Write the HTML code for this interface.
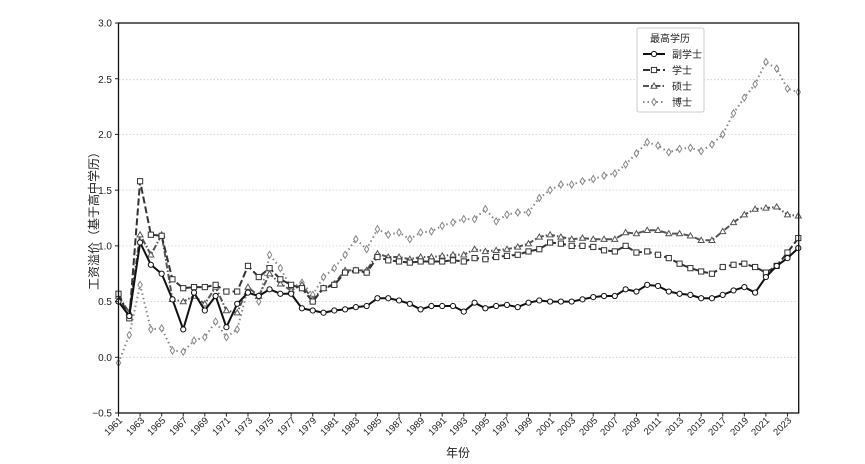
<!DOCTYPE html>
<html><head><meta charset="utf-8"><style>
html,body{margin:0;padding:0;background:#fff;}
svg{display:block;font-family:"Liberation Sans","Noto Sans CJK SC",sans-serif;}
</style></head><body>
<svg id="s" width="865" height="464" viewBox="0 0 865 464" xmlns="http://www.w3.org/2000/svg">
<rect width="865" height="464" fill="#fff"/>
<g id="grid" stroke="#ccc" stroke-width="0.8" stroke-dasharray="1.5,2">
<line x1="119" x2="798" y1="79.7" y2="79.7"/>
<line x1="119" x2="798" y1="134.4" y2="134.4"/>
<line x1="119" x2="798" y1="190.1" y2="190.1"/>
<line x1="119" x2="798" y1="245.9" y2="245.9"/>
<line x1="119" x2="798" y1="301.6" y2="301.6"/>
<line x1="119" x2="798" y1="357.3" y2="357.3"/>
</g>
<g id="series"></g>
<rect x="118.5" y="23" width="680.2" height="390" fill="none" stroke="#111" stroke-width="1.3"/>
<g font-size="10" fill="#222" text-anchor="end">
<text x="112" y="26.5">3.0</text>
<text x="112" y="83">2.5</text>
<text x="112" y="138">2.0</text>
<text x="112" y="194">1.5</text>
<text x="112" y="249.5">1.0</text>
<text x="112" y="305">0.5</text>
<text x="112" y="361">0.0</text>
<text x="112" y="416.5">−0.5</text>
</g>
<g id="yt" stroke="#222" stroke-width="1"></g>
<g id="xl" font-size="9.5" fill="#222" text-anchor="end">
<text transform="translate(123,421) rotate(-45)">1961</text>
<text transform="translate(145,421) rotate(-45)">1963</text>
<text transform="translate(166,421) rotate(-45)">1965</text>
<text transform="translate(188,421) rotate(-45)">1967</text>
<text transform="translate(209,421) rotate(-45)">1969</text>
<text transform="translate(231,421) rotate(-45)">1971</text>
<text transform="translate(253,421) rotate(-45)">1973</text>
<text transform="translate(274,421) rotate(-45)">1975</text>
<text transform="translate(296,421) rotate(-45)">1977</text>
<text transform="translate(317,421) rotate(-45)">1979</text>
<text transform="translate(339,421) rotate(-45)">1981</text>
<text transform="translate(360,421) rotate(-45)">1983</text>
<text transform="translate(382,421) rotate(-45)">1985</text>
<text transform="translate(404,421) rotate(-45)">1987</text>
<text transform="translate(425,421) rotate(-45)">1989</text>
<text transform="translate(447,421) rotate(-45)">1991</text>
<text transform="translate(468,421) rotate(-45)">1993</text>
<text transform="translate(490,421) rotate(-45)">1995</text>
<text transform="translate(511,421) rotate(-45)">1997</text>
<text transform="translate(533,421) rotate(-45)">1999</text>
<text transform="translate(555,421) rotate(-45)">2001</text>
<text transform="translate(576,421) rotate(-45)">2003</text>
<text transform="translate(598,421) rotate(-45)">2005</text>
<text transform="translate(619,421) rotate(-45)">2007</text>
<text transform="translate(641,421) rotate(-45)">2009</text>
<text transform="translate(662,421) rotate(-45)">2011</text>
<text transform="translate(684,421) rotate(-45)">2013</text>
<text transform="translate(706,421) rotate(-45)">2015</text>
<text transform="translate(727,421) rotate(-45)">2017</text>
<text transform="translate(749,421) rotate(-45)">2019</text>
<text transform="translate(770,421) rotate(-45)">2021</text>
<text transform="translate(792,421) rotate(-45)">2023</text>
</g>
<text x="458" y="457" font-size="12" text-anchor="middle" fill="#222">年份</text>
<text transform="translate(98,218) rotate(-90)" font-size="12" text-anchor="middle" fill="#222">工资溢价（基于高中学历）</text>
<g>
<rect x="637" y="28" width="67" height="84" fill="#fff" stroke="#ccc" stroke-width="1" rx="2"/>
<text x="670" y="42" font-size="10" text-anchor="middle" fill="#222">最高学历</text>
<text x="672" y="58" font-size="10" fill="#222">副学士</text>
<text x="672" y="74" font-size="10" fill="#222">学士</text>
<text x="672" y="90" font-size="10" fill="#222">硕士</text>
<text x="672" y="106" font-size="10" fill="#222">博士</text>
<g id="leg"></g>
</g>
</svg>
<script>
var NS="http://www.w3.org/2000/svg";
function X(yr){return 118.5+(yr-1961)*10.79;}
function Y(v){return 23+(3-v)*111.43;}
var A=[0.50,0.37,1.03,0.83,0.75,0.52,0.25,0.58,0.42,0.55,0.27,0.48,0.58,0.55,0.61,0.57,0.57,0.44,0.42,0.40,0.42,0.43,0.45,0.46,0.53,0.53,0.51,0.48,0.43,0.46,0.46,0.46,0.41,0.49,0.44,0.46,0.47,0.45,0.49,0.51,0.50,0.50,0.50,0.52,0.54,0.55,0.55,0.61,0.59,0.65,0.64,0.59,0.57,0.56,0.53,0.53,0.56,0.60,0.63,0.58,0.72,0.82,0.89,0.98];
var B=[0.57,0.35,1.58,1.10,1.09,0.70,0.62,0.63,0.63,0.65,0.59,0.59,0.82,0.72,0.80,0.70,0.65,0.62,0.50,0.62,0.65,0.76,0.78,0.76,0.90,0.87,0.86,0.85,0.86,0.86,0.86,0.87,0.86,0.89,0.88,0.90,0.91,0.92,0.95,0.97,1.03,1.02,1.00,1.00,0.99,0.96,0.95,1.00,0.94,0.95,0.92,0.89,0.84,0.80,0.77,0.75,0.81,0.83,0.84,0.81,0.76,0.82,0.94,1.07];
var M=[0.55,0.40,1.10,0.92,1.10,0.52,0.50,0.55,0.48,0.63,0.42,0.40,0.63,0.55,0.75,0.66,0.60,0.65,0.52,0.62,0.66,0.78,0.78,0.78,0.93,0.90,0.90,0.88,0.90,0.90,0.91,0.92,0.92,0.97,0.95,0.96,0.97,0.99,1.02,1.08,1.10,1.08,1.06,1.07,1.06,1.06,1.06,1.12,1.11,1.14,1.14,1.11,1.11,1.09,1.05,1.05,1.13,1.21,1.28,1.33,1.34,1.35,1.28,1.27];
var P=[-0.05,0.20,0.65,0.25,0.26,0.06,0.05,0.15,0.18,0.32,0.18,0.25,0.62,0.50,0.92,0.80,0.62,0.67,0.56,0.72,0.80,0.92,1.06,0.97,1.15,1.10,1.12,1.06,1.12,1.13,1.18,1.21,1.24,1.24,1.33,1.22,1.28,1.30,1.30,1.43,1.50,1.55,1.55,1.58,1.60,1.63,1.65,1.73,1.83,1.93,1.90,1.84,1.87,1.88,1.85,1.91,2.00,2.19,2.33,2.45,2.65,2.59,2.41,2.38];
var g=document.getElementById("series");
function el(n,a,p){var e=document.createElementNS(NS,n);for(var k in a)e.setAttribute(k,a[k]);p.appendChild(e);return e;}
function marker(t,x,y,c,p){
 if(t=="o")el("circle",{cx:x,cy:y,r:2.6,fill:"#fff",stroke:c,"stroke-width":1},p);
 else if(t=="s")el("rect",{x:x-2.6,y:y-2.6,width:5.2,height:5.2,fill:"#fff",stroke:c,"stroke-width":1},p);
 else if(t=="^")el("polygon",{points:(x)+","+(y-3)+" "+(x-3)+","+(y+2.2)+" "+(x+3)+","+(y+2.2),fill:"#fff",stroke:c,"stroke-width":1},p);
 else el("polygon",{points:x+","+(y-3.5)+" "+(x+2.2)+","+y+" "+x+","+(y+3.5)+" "+(x-2.2)+","+y,fill:"#fff",stroke:c,"stroke-width":1},p);
}
var S=[[P,"#888","1.5,3","d",2],[M,"#555","6,2,1.5,2","^",2],[B,"#333","7,3","s",2],[A,"#111","","o",2]];
S.forEach(function(s){
 var pts=s[0].map(function(v,i){return X(1961+i).toFixed(1)+","+Y(v).toFixed(1);}).join(" ");
 var a={points:pts,fill:"none",stroke:s[1],"stroke-width":s[4]};if(s[2])a["stroke-dasharray"]=s[2];
 el("polyline",a,g);
 s[0].forEach(function(v,i){marker(s[3],X(1961+i),Y(v),s[1],g);});
});
var yt=document.getElementById("yt");
for(var i=0;i<8;i++){var y=Y(3-i*0.5);el("line",{x1:115,x2:118.5,y1:y,y2:y},yt);}
for(var yr=1961;yr<=2023;yr+=2){el("line",{x1:X(yr),x2:X(yr),y1:413,y2:416.5},yt);}
var lg=document.getElementById("leg");
var L=[["#111","","o",54],["#333","7,3","s",70],["#555","6,2,1.5,2","^",86],["#888","1.5,3","d",102]];
L.forEach(function(l){var a={x1:643,x2:665,y1:l[3],y2:l[3],stroke:l[0],"stroke-width":2};if(l[1])a["stroke-dasharray"]=l[1];el("line",a,lg);marker(l[2],654,l[3],l[0],lg);});
</script>
</body></html>
